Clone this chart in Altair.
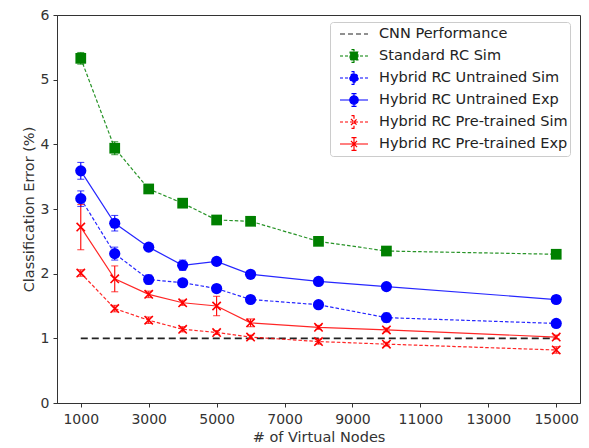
import altair as alt
import pandas as pd

nodes = [1000, 2000, 3000, 4000, 5000, 6000, 8000, 10000, 15000]

std_sim = [5.33, 3.94, 3.31, 3.09, 2.83, 2.81, 2.50, 2.35, 2.30]
std_sim_err = [0.09, 0.10, 0.05, 0.04, 0.04, 0.04, 0.06, 0.04, 0.04]
hu_sim = [3.16, 2.31, 1.91, 1.86, 1.77, 1.60, 1.52, 1.32, 1.23]
hu_sim_err = [0.12, 0.10, 0.07, 0.05, 0.05, 0.04, 0.05, 0.07, 0.04]
hu_exp = [3.59, 2.78, 2.41, 2.13, 2.19, 1.99, 1.88, 1.80, 1.60]
hu_exp_err = [0.13, 0.12, 0.04, 0.08, 0.05, 0.04, 0.04, 0.05, 0.06]
hp_sim = [2.01, 1.46, 1.28, 1.14, 1.09, 1.02, 0.95, 0.91, 0.82]
hp_sim_err = [0.05, 0.05, 0.05, 0.04, 0.03, 0.03, 0.04, 0.03, 0.05]
hp_exp = [2.72, 1.92, 1.68, 1.55, 1.50, 1.24, 1.17, 1.13, 1.02]
hp_exp_err = [0.35, 0.20, 0.05, 0.04, 0.15, 0.06, 0.03, 0.03, 0.03]

cnn_x = [1000, 15000]
cnn_y = [1.0, 1.0]

series_names = [
    "CNN Performance",
    "Standard RC Sim",
    "Hybrid RC Untrained Sim",
    "Hybrid RC Untrained Exp",
    "Hybrid RC Pre-trained Sim",
    "Hybrid RC Pre-trained Exp",
]
series_colors = ["#222222", "#008000", "#0000ff", "#0000ff", "#ff0000", "#ff0000"]

rows = []
for name, vals, errs in [
    ("Standard RC Sim", std_sim, std_sim_err),
    ("Hybrid RC Untrained Sim", hu_sim, hu_sim_err),
    ("Hybrid RC Untrained Exp", hu_exp, hu_exp_err),
    ("Hybrid RC Pre-trained Sim", hp_sim, hp_sim_err),
    ("Hybrid RC Pre-trained Exp", hp_exp, hp_exp_err),
]:
    for x, v, e in zip(nodes, vals, errs):
        rows.append({"series": name, "x": x, "y": v, "lo": v - e, "hi": v + e})
df = pd.DataFrame(rows)
cnn_df = pd.DataFrame({"series": "CNN Performance", "x": cnn_x, "y": cnn_y})
# legend-only helper rows, placed below the visible y range and clipped away
legend_df = pd.DataFrame({"series": series_names, "x": [1000] * 6, "y": [-5.0] * 6})

xscale = alt.Scale(domain=[300, 15700], nice=False, zero=False)
yscale = alt.Scale(domain=[0, 6], nice=False)
X = alt.X("x:Q", scale=xscale, title="# of Virtual Nodes",
          axis=alt.Axis(values=[1000, 3000, 5000, 7000, 9000, 11000, 13000, 15000], format="d"))
Y = alt.Y("y:Q", scale=yscale, title="Classification Error (%)",
          axis=alt.Axis(values=[0, 1, 2, 3, 4, 5, 6], format="d"))

# colour scale for the data marks (domain order reversed so it is kept apart from the legend scales)
col_scale = alt.Scale(domain=series_names[::-1], range=series_colors[::-1])
color_nl = alt.Color("series:N", scale=col_scale, legend=None)

sims = ["Standard RC Sim", "Hybrid RC Untrained Sim", "Hybrid RC Pre-trained Sim"]
exps = ["Hybrid RC Untrained Exp", "Hybrid RC Pre-trained Exp"]

base = alt.Chart(df)

dashed = base.transform_filter(alt.FieldOneOfPredicate(field="series", oneOf=sims)).mark_line(
    strokeWidth=1.2, strokeDash=[3.5, 2], opacity=0.85).encode(x=X, y=Y, color=color_nl, detail="series:N")
solid = base.transform_filter(alt.FieldOneOfPredicate(field="series", oneOf=exps)).mark_line(
    strokeWidth=1.2, opacity=0.85).encode(x=X, y=Y, color=color_nl, detail="series:N")

cnn = alt.Chart(cnn_df).mark_line(strokeWidth=1.8, strokeDash=[7, 4]).encode(x=X, y=Y, color=color_nl)

err_rule = base.mark_rule(strokeWidth=1.1).encode(
    x=alt.X("x:Q", scale=xscale), y=alt.Y("lo:Q", scale=yscale), y2="hi:Q", color=color_nl)
cap_lo = base.mark_tick(orient="horizontal", size=7, thickness=1.1).encode(
    x=alt.X("x:Q", scale=xscale), y=alt.Y("lo:Q", scale=yscale), color=color_nl)
cap_hi = base.mark_tick(orient="horizontal", size=7, thickness=1.1).encode(
    x=alt.X("x:Q", scale=xscale), y=alt.Y("hi:Q", scale=yscale), color=color_nl)

squares = base.transform_filter(alt.datum.series == "Standard RC Sim").mark_point(
    shape="square", filled=True, size=115, opacity=1).encode(x=X, y=Y, color=color_nl)
circles = base.transform_filter(alt.FieldOneOfPredicate(field="series", oneOf=["Hybrid RC Untrained Sim", "Hybrid RC Untrained Exp"])).mark_point(
    shape="circle", filled=True, size=125, opacity=1).encode(x=X, y=Y, color=color_nl)
crosses = base.transform_filter(alt.FieldOneOfPredicate(field="series", oneOf=["Hybrid RC Pre-trained Sim", "Hybrid RC Pre-trained Exp"])).mark_point(
    shape="M-1,-1L1,1M-1,1L1,-1", filled=False, size=70, strokeWidth=1.6, opacity=1).encode(x=X, y=Y, color=color_nl)

eb = "M0,-0.45V0.45M-0.18,-0.45H0.18M-0.18,0.45H0.18"
legend_shapes = [
    "M-1,0H1",
    "M-1,0H1M-0.28,-0.28H0.28V0.28H-0.28Z" + eb,
    "M-1,0H1M-0.3,0A0.3,0.3 0 1,0 0.3,0A0.3,0.3 0 1,0 -0.3,0Z" + eb,
    "M-1,0H1M-0.3,0A0.3,0.3 0 1,0 0.3,0A0.3,0.3 0 1,0 -0.3,0Z" + eb,
    "M-1,0H1M-0.22,-0.22L0.22,0.22M-0.22,0.22L0.22,-0.22" + eb,
    "M-1,0H1M-0.22,-0.22L0.22,0.22M-0.22,0.22L0.22,-0.22" + eb,
]
legend_dash = [[5, 3], [3, 2], [3, 2], [1, 0], [3, 2], [1, 0]]

leg = alt.Legend(title=None, orient="none", legendX=273, legendY=7,
                 symbolSize=784, symbolStrokeWidth=1.2, symbolOpacity=1, symbolOffset=7,
                 labelFontSize=14.5, labelLimit=400,
                 labelFont="DejaVu Sans", labelColor="#222222", labelOffset=10,
                 fillColor="white", strokeColor="#cccccc", cornerRadius=3,
                 padding=2, clipHeight=20, rowPadding=2)

fill_scale = alt.Scale(domain=series_names, range=series_colors)
legend_layer = alt.Chart(legend_df).mark_point(strokeWidth=1.2, opacity=1, clip=True).encode(
    x=alt.X("x:Q", scale=xscale), y=alt.Y("y:Q", scale=yscale),
    fill=alt.Fill("series:N", scale=fill_scale, legend=leg),
    stroke=alt.Stroke("series:N", scale=fill_scale, legend=leg),
    shape=alt.Shape("series:N", scale=alt.Scale(domain=series_names, range=legend_shapes), legend=leg),
    strokeDash=alt.StrokeDash("series:N", scale=alt.Scale(domain=series_names, range=legend_dash), legend=leg),
)

chart = alt.layer(cnn, dashed, solid, err_rule, cap_lo, cap_hi, squares, circles, crosses, legend_layer).properties(
    width=523, height=388,
    autosize=alt.AutoSizeParams(type="none"),
    padding={"left": 49, "top": 7, "right": 1, "bottom": 45},
).configure_view(stroke="#333333", strokeWidth=1).configure_axis(
    grid=False, domainColor="#333333", tickColor="#333333", tickSize=4,
    labelFont="DejaVu Sans", labelFontSize=14, labelColor="#333333",
    titleFont="DejaVu Sans", titleFontSize=14.5, titleFontWeight="normal", titleColor="#333333",
).configure_axisY(titlePadding=4, labelPadding=4).configure_axisX(titlePadding=4, labelPadding=5)

chart.save("out.html", embed_options={"renderer": "svg", "actions": False})
